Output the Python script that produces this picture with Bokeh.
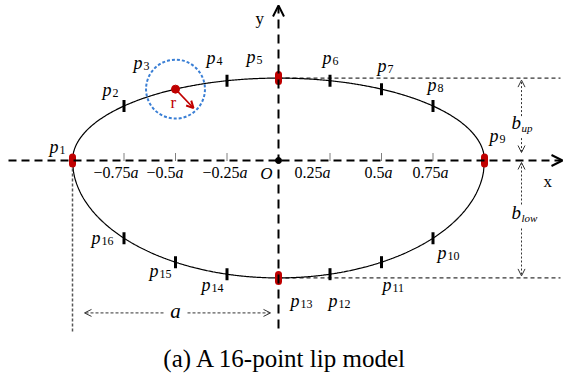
import numpy as np
from bokeh.plotting import figure
from bokeh.models import Range1d, Arrow, OpenHead
from bokeh.core.properties import value
from bokeh.embed import file_html
from bokeh.resources import INLINE

# ---------------- data (model in units of a) ----------------
A = 1.0          # half width
B_UP = 0.40      # upper half height
B_LOW = 0.57     # lower half height
point_subs = ["1", "2", "3", "4", "5", "6", "7", "8", "9", "10", "11", "12", "13", "14", "15", "16"]
point_x = [-1.0, -0.75, -0.5, -0.25, 0.0, 0.25, 0.5, 0.75, 1.0, 0.75, 0.5, 0.25, 0.0, -0.25, -0.5, -0.75]
point_lip = ["up"] * 9 + ["low"] * 7
key_points = ["1", "5", "9", "13"]
circle_point = "3"
R_CIRCLE = 0.143
tick_fracs = [-0.75, -0.5, -0.25, 0.25, 0.5, 0.75]
tick_nums = ["\u22120.75", "\u22120.5", "\u22120.25", "0.25", "0.5", "0.75"]
caption = "(a) A 16-point lip model"

# ---------------- layout ----------------
S = 206.0                     # pixels per unit a
W, H = 563, 379
OX, OY = 278, 160             # origin inside canvas
PX = 1.0 / S
T = 6 * PX                    # text baseline correction (upwards)
SERIF = value("Liberation Serif")
RED = "#c00000"
BLUE = "#3a7fd5"
GREY = "#333333"

lab_dx = [-23, -21.5, -42, -20.5, -32, -7.5, -4, -5.5, 5, 4.5, 1, -1.5, 12, -25.5, -26, -32.5]
lab_dy = [-8, -10, -20, -17, -15, -17, -17, -15, -19, 21, 29, 33, 29, 17, 15, 6]
tick_right = [14.5, 8, 20.5, 0.5, 11, 15.5]   # right edge of tick label rel. to tick (px)

p = figure(width=W, height=H, output_backend="svg", toolbar_location=None,
           x_range=Range1d(-OX / S, (W - OX) / S), y_range=Range1d(-(H - OY) / S, OY / S),
           min_border=0, background_fill_color="white", border_fill_color="white")
p.axis.visible = False
p.grid.visible = False
p.outline_line_color = None

def lip_y(x, side):
    b = B_UP if side == "up" else -B_LOW
    return b * np.sqrt(max(0.0, 1 - (x / A) ** 2))

def txt(x, y, s, size, italic=False, align="left", color="black"):
    p.text([x], [y + T], text=[s], text_font=SERIF,
           text_font_style="italic" if italic else "normal",
           text_font_size=size, text_align=align, text_baseline="alphabetic",
           text_color=color)

# ellipse curve
xs = np.linspace(-A, A, 400)
p.line(xs, [lip_y(x, "up") for x in xs], line_color="black", line_width=1.2)
p.line(xs, [lip_y(x, "low") for x in xs], line_color="black", line_width=1.2)

pt_y = [lip_y(x, s) for x, s in zip(point_x, point_lip)]

# axes (dashed with open arrow heads)
p.add_layout(Arrow(x_start=-270 * PX, y_start=0, x_end=284 * PX, y_end=0,
                   line_width=2, line_dash="8 5", line_color="black",
                   end=OpenHead(size=11, line_width=2, line_color="black")))
p.add_layout(Arrow(x_start=0, y_start=-168 * PX, x_end=0, y_end=155 * PX,
                   line_width=2, line_dash="9 6", line_color="black",
                   end=OpenHead(size=11, line_width=2, line_color="black")))
p.scatter([0], [0], marker="circle", size=6, color="black")
txt(-6 * PX, -19 * PX, "O", "17px", italic=True, align="right")
txt(-23 * PX, 136 * PX, "y", "17px")
txt(265 * PX, -27 * PX, "x", "17px")

# ticks on x axis
for f in tick_fracs:
    p.line([f * A, f * A], [0, 8 * PX], line_color="black", line_width=1, line_dash="1 1")
for f, num, r in zip(tick_fracs, tick_nums, tick_right):
    xr = f * A + r * PX
    txt(xr, -18 * PX, "a", "16px", italic=True, align="right")
    txt(xr - 8 * PX, -18 * PX, num, "16px", align="right")

# extension lines
p.line([0, 282 * PX], [B_UP, B_UP], line_color="black", line_width=1, line_dash="4 3")
p.line([0, 282 * PX], [-B_LOW, -B_LOW], line_color="black", line_width=1, line_dash="4 3")
p.line([-A, -A], [-8 * PX, -172 * PX], line_color="#555555", line_width=1.5, line_dash="3 2")

# b_up / b_low dimension arrows
XD = 243 * PX
for ys, ye in [(B_UP - 38 * PX, B_UP - 2 * PX), (B_UP - 60 * PX, 8 * PX),
               (-44 * PX, -2 * PX), (-68 * PX, -B_LOW + 2 * PX)]:
    p.add_layout(Arrow(x_start=XD, y_start=ys, x_end=XD, y_end=ye,
                       line_color=GREY, line_width=1, line_dash="2 2",
                       end=OpenHead(size=7, line_width=1, line_color=GREY)))
txt(233 * PX, 32 * PX, "b", "19px", italic=True)
txt(243 * PX, 27 * PX, "up", "11px", italic=True)
txt(233 * PX, -58 * PX, "b", "19px", italic=True)
txt(243 * PX, -63 * PX, "low", "11px", italic=True)

# a dimension arrow
YA = -B_LOW - 35 * PX
p.add_layout(Arrow(x_start=-A / 2 - 12 * PX, y_start=YA, x_end=-A + 12 * PX, y_end=YA,
                   line_color=GREY, line_width=1, line_dash="3 2",
                   end=OpenHead(size=7, line_width=1, line_color=GREY)))
p.add_layout(Arrow(x_start=-A / 2 + 12 * PX, y_start=YA, x_end=-8 * PX, y_end=YA,
                   line_color=GREY, line_width=1, line_dash="3 2",
                   end=OpenHead(size=7, line_width=1, line_color=GREY)))
txt(-A / 2, YA - 4 * PX, "a", "21px", italic=True, align="center")

# point markers
for sub, x, y in zip(point_subs, point_x, pt_y):
    if sub in key_points:
        p.segment([x], [y - 3.5 * PX], [x], [y + 3.5 * PX], line_color=RED,
                  line_width=7, line_cap="round")
    elif sub == circle_point:
        p.circle([x], [y], radius=R_CIRCLE, fill_color=None, line_color=BLUE,
                 line_width=2, line_dash="3 2")
        p.scatter([x], [y], marker="circle", size=8, color=RED)
        p.add_layout(Arrow(x_start=x, y_start=y, x_end=x + 18 * PX, y_end=y - 19 * PX,
                           line_color=RED, line_width=1.5,
                           end=OpenHead(size=7, line_width=2, line_color=RED)))
        txt(x - 5 * PX, y - 19 * PX, "r", "17px", color=RED)
    else:
        p.segment([x], [y - 6 * PX], [x], [y + 6 * PX], line_color="black",
                  line_width=3, line_cap="butt")

# point labels
for sub, x, y, dx, dy in zip(point_subs, point_x, pt_y, lab_dx, lab_dy):
    txt(x + dx * PX, y - dy * PX, "p", "18px", italic=True)
    txt(x + (dx + 10) * PX, y - (dy + 3) * PX, sub, "12px")

# caption
txt(7 * PX, -204 * PX, caption, "25px", align="center")

open("out.html", "w").write(file_html(p, INLINE))
